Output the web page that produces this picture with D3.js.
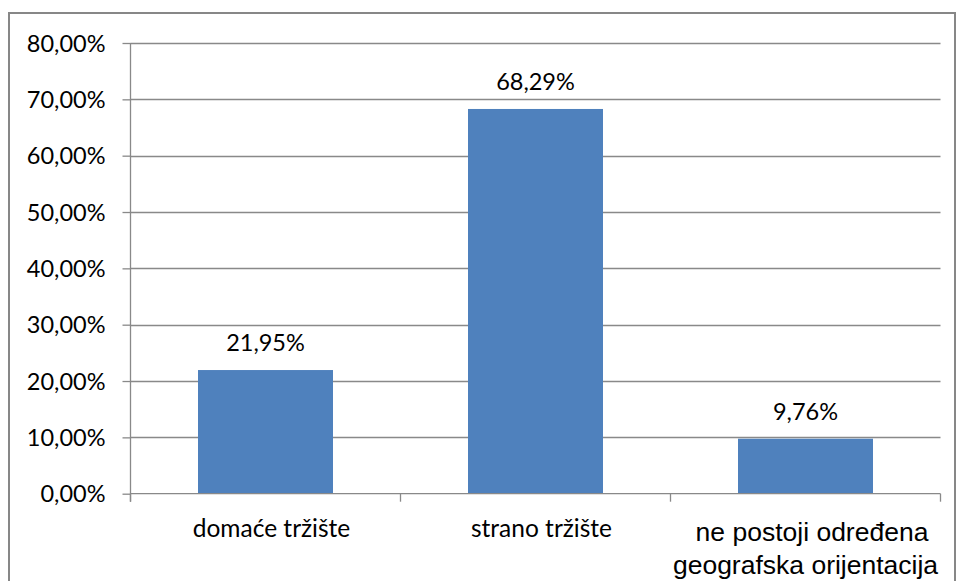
<!DOCTYPE html>
<html>
<head>
<meta charset="utf-8">
<script src="https://cdn.jsdelivr.net/npm/d3@7"></script>
<style>
  html, body { margin: 0; padding: 0; background: #fff; }
  svg { display: block; }
</style>
</head>
<body>
<svg id="chart" width="957" height="581"></svg>
<script>
const categories = ["domaće tržište", "strano tržište", "ne postoji određena\ngeografska orijentacija"];
const values = [0.2195, 0.6829, 0.0976];
const yTicks = [0, 0.1, 0.2, 0.3, 0.4, 0.5, 0.6, 0.7, 0.8];

(function () {
const svg = d3.select("#chart");
const pLeft = 130.5, pRight = 940.5, pTop = 43, pBottom = 493.7;
const gridColor = "#898989";
const calibri = "Lato, 'Open Sans', sans-serif";

const locale = d3.formatLocale({decimal: ",", thousands: ".", grouping: [3], currency: ["", ""]});
const fmt = locale.format(".2%");

// outer frame
svg.append("rect").attr("x", 9).attr("y", 13).attr("width", 946).attr("height", 600)
  .attr("fill", "#fff").attr("stroke", "#878787").attr("stroke-width", 2);

const x = d3.scaleBand().domain(categories).range([pLeft, pRight]).paddingInner(0.5).paddingOuter(0.25);
const y = d3.scaleLinear().domain([0, 0.8]).range([pBottom, pTop]);

// gridlines
svg.append("g").selectAll("line").data(yTicks.filter(d => d > 0)).join("line")
  .attr("x1", pLeft).attr("x2", pRight)
  .attr("y1", d => Math.round(y(d)) + 0.5).attr("y2", d => Math.round(y(d)) + 0.5)
  .attr("stroke", gridColor).attr("stroke-width", 1.3);

// bars
svg.append("g").selectAll("rect").data(values).join("rect")
  .attr("x", (d, i) => x(categories[i]))
  .attr("width", x.bandwidth())
  .attr("y", d => y(d))
  .attr("height", d => y(0) - y(d))
  .attr("fill", "#4f81bd");

// y axis
const yAxis = d3.axisLeft(y).tickValues(yTicks).tickSize(8).tickFormat(fmt);
const gy = svg.append("g").attr("transform", `translate(${pLeft},0)`).call(yAxis);
gy.select(".domain").attr("d", `M0,${pTop}V${pBottom + 8}`).attr("stroke", gridColor).attr("stroke-width", 1.3).attr("fill", "none");
gy.selectAll(".tick line").attr("stroke", gridColor).attr("stroke-width", 1.3);
gy.selectAll(".tick text").attr("x", -25).attr("dy", "0.35em")
  .style("font-family", calibri).style("font-size", "23.5px").attr("fill", "#000");

// x axis
svg.append("line").attr("x1", pLeft).attr("x2", pRight).attr("y1", pBottom).attr("y2", pBottom)
  .attr("stroke", gridColor).attr("stroke-width", 1.3);
const boundaries = d3.range(categories.length + 1).map(i => pLeft + i * x.step());
svg.append("g").selectAll("line").data(boundaries).join("line")
  .attr("x1", d => d).attr("x2", d => d).attr("y1", pBottom).attr("y2", pBottom + 8)
  .attr("stroke", gridColor).attr("stroke-width", 1.3);

// category labels
const cat = svg.append("g");
categories.forEach((c, i) => {
  const cx = x(c) + x.bandwidth() / 2;
  const lines = c.split("\n");
  if (lines.length === 1) {
    cat.append("text").attr("x", cx + 6).attr("y", 537).attr("text-anchor", "middle")
      .style("font-family", calibri).style("font-size", "24.5px").text(c);
  } else {
    lines.forEach((l, j) => {
      cat.append("text").attr("x", cx + (j === 0 ? 6.5 : 0)).attr("y", 541 + j * 33).attr("text-anchor", "middle")
        .style("font-family", "'Liberation Sans', Arial, sans-serif").style("font-size", "26.5px").text(l);
    });
  }
});

// data labels
svg.append("g").selectAll("text").data(values).join("text")
  .attr("x", (d, i) => x(categories[i]) + x.bandwidth() / 2)
  .attr("y", d => y(d) - 19)
  .attr("text-anchor", "middle")
  .style("font-family", calibri).style("font-size", "23.5px")
  .text(d => fmt(d));
})();
</script>
</body>
</html>
